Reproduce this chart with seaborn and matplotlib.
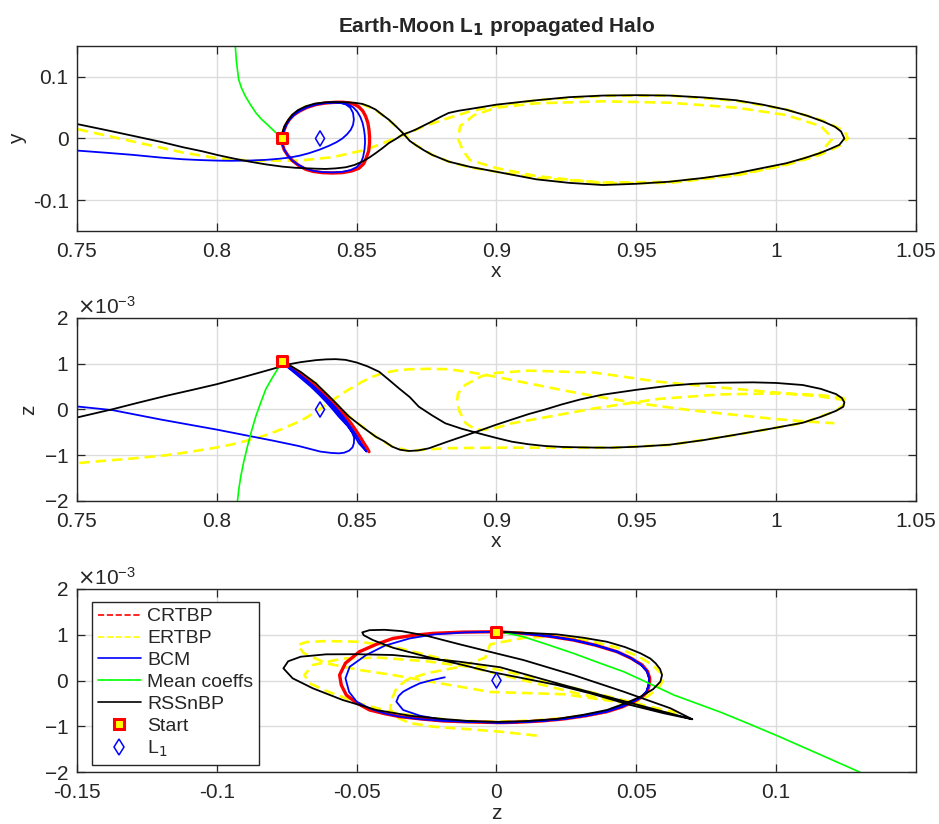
import numpy as np
import pandas as pd
import matplotlib
matplotlib.use("Agg")
import matplotlib.pyplot as plt
import seaborn as sns
from matplotlib.lines import Line2D
from matplotlib.ticker import ScalarFormatter, FixedLocator, FuncFormatter

# ---------------- DATA ----------------
# Markers
start_xy = (0.8232, 0.0)
start_xz_milli = (0.8232, 1.06)
start_yz_milli = (0.0, 1.066)
L1_xy = (0.8369, 0.0)
L1_xz_milli = (0.8369, 0.0)
L1_yz_milli = (0.0, 0.0)

# ---- Panel 1: x-y ----
red_xy_x = [0.8232,0.8234,0.8241,0.8254,0.8270,0.8292,0.8318,0.8345,0.8377,0.8413,0.8449,0.8482,0.8508,0.8525,0.8534,0.8543,0.8546,0.8546,0.8544,0.8540,0.8532,0.8522,0.8508,0.8492,0.8473,0.8450,0.8425,0.8390,0.8354,0.8322,0.8294,0.8273,0.8259,0.8248,0.8241,0.8235,0.8232]
red_xy_y = [0.0,-0.009,-0.0184,-0.0275,-0.0359,-0.0435,-0.0500,-0.0535,-0.0554,-0.0560,-0.0554,-0.0527,-0.0483,-0.0410,-0.0320,-0.0200,-0.0075,0.0035,0.0142,0.0255,0.0360,0.0445,0.0512,0.0553,0.0577,0.0588,0.0587,0.0576,0.0550,0.0503,0.0440,0.0375,0.0305,0.0225,0.0142,0.0070,0.0]

blue_xy_x = [0.8232,0.8234,0.8241,0.8254,0.8270,0.8292,0.8318,0.8345,0.8377,0.8413,0.8449,0.8478,0.8500,0.8515,0.8523,0.8528,0.8530,0.8529,0.8526,0.8521,0.8513,0.8502,0.8488,0.8470,0.8448,0.8425,0.8390,0.8354,0.8322,0.8294,0.8273,0.8259,0.8248,0.8241,0.8235,0.8232,
             0.8235,0.8241,0.8250,0.8264,0.8282,0.8305,0.8330,0.8370,0.8413,0.8440,0.8461,0.8477,0.8487,0.8490,0.8487,0.8479,0.8466,0.8449,0.8428,0.8401,0.8368,0.8330,0.8295,0.8259,0.8220,0.8175,0.8116,0.8050,0.8000,0.7940,0.7878,0.7800,0.7700,0.7600,0.7500,0.7450]
blue_xy_y = [0.0,-0.009,-0.0184,-0.0275,-0.0359,-0.0430,-0.0490,-0.0525,-0.0545,-0.0550,-0.0542,-0.0513,-0.0465,-0.0395,-0.0300,-0.0180,-0.0060,0.0050,0.0150,0.0255,0.0350,0.0435,0.0505,0.0552,0.0578,0.0586,0.0576,0.0550,0.0503,0.0440,0.0375,0.0305,0.0225,0.0142,0.0070,0.0,
             0.0070,0.0142,0.0240,0.0330,0.0410,0.0480,0.0530,0.0570,0.0585,0.0578,0.0552,0.0500,0.0414,0.0305,0.0220,0.0142,0.0070,0.0,-0.0060,-0.0119,-0.0180,-0.0238,-0.0280,-0.0310,-0.0330,-0.0347,-0.0358,-0.0362,-0.0359,-0.0350,-0.0337,-0.0310,-0.0266,-0.0230,-0.0196,-0.0180]

green_xy_x = [0.8062,0.8066,0.8070,0.8078,0.8088,0.8102,0.8120,0.8140,0.8160,0.8182,0.8205,0.8220,0.8232]
green_xy_y = [0.170,0.150,0.125,0.0957,0.082,0.0685,0.055,0.0413,0.031,0.022,0.012,0.0055,0.0]

black_xy_x = [0.745,0.750,0.760,0.770,0.780,0.7878,0.795,0.800,0.806,0.8116,0.8175,0.8235,0.8280,0.8318,0.8354,0.8389,0.8425,0.8461,0.8492,0.8520,0.8545,0.8568,0.8592,0.8615,0.8640,0.8663,0.8690,0.8710,0.8740,0.8770,0.8800,0.8829,0.8865,0.8905,0.9000,0.9143,0.9260,0.9381,0.9500,0.9619,0.9740,0.9857,0.9950,1.0036,1.0110,1.0167,1.0210,1.0232,1.0244,1.0226,1.0190,1.0155,1.0100,1.0036,0.9950,0.9857,0.9740,0.9619,0.9500,0.9381,0.9260,0.9143,0.9000,0.8905,0.8829,0.8770,0.8740,0.8710,0.8690,0.8663,0.8640,0.8615,0.8590,0.8568,0.8545,0.8520,0.8490,0.8461,0.8425,0.8389,0.8350,0.8318,0.8290,0.8270,0.8255,0.8241,0.8235,0.8232]
black_xy_y = [0.0290,0.0234,0.0140,0.0043,-0.0055,-0.0141,-0.0210,-0.0266,-0.0325,-0.0375,-0.0420,-0.0457,-0.0475,-0.0483,-0.0490,-0.0494,-0.0485,-0.0467,-0.0430,-0.0375,-0.0310,-0.0238,-0.0158,-0.0075,-0.0008,0.0060,0.0105,0.0142,0.0210,0.0278,0.0350,0.0414,0.0450,0.0478,0.0549,0.0620,0.0670,0.0696,0.0702,0.0696,0.0665,0.0620,0.0550,0.0467,0.0370,0.0277,0.0190,0.0114,0.0,-0.0103,-0.0175,-0.0239,-0.0320,-0.0402,-0.0480,-0.0565,-0.0640,-0.0701,-0.0735,-0.0755,-0.0720,-0.0663,-0.0540,-0.0460,-0.0375,-0.0266,-0.0190,-0.0103,-0.0040,0.0098,0.0200,0.0305,0.0390,0.0468,0.0520,0.0561,0.0580,0.0587,0.0590,0.0587,0.0565,0.0522,0.0460,0.0387,0.0300,0.0196,0.0100,0.0]

yellow_xy_x = [0.8232,0.8241,0.8270,0.8318,0.8389,0.8461,0.8520,0.8568,0.8615,0.8663,0.8710,0.8770,0.8829,0.8905,0.9000,0.9143,0.9381,0.9619,0.9857,1.0036,1.0155,1.0202,1.0160,1.0036,0.9857,0.9619,0.9381,0.9143,0.9000,0.8920,0.8870,0.8862,0.8880,0.8905,0.9000,0.9143,0.9381,0.9619,0.9857,1.0036,1.0155,1.0226,1.0256,1.0245,1.0167,1.0036,0.9857,0.9619,0.9381,0.9143,0.9000,0.8905,0.8829,0.8746,0.8674,0.8615,0.8532,0.8413,0.8294,0.8116,0.8000,0.7878,0.7700,0.7500,0.7450]
yellow_xy_y = [0.0,0.0196,0.0387,0.0522,0.0587,0.0587,0.0555,0.0460,0.0300,0.0098,-0.0103,-0.0266,-0.0375,-0.0470,-0.0540,-0.0640,-0.0715,-0.0705,-0.0590,-0.0420,-0.0240,0.0,0.0200,0.0380,0.0500,0.0580,0.0603,0.0570,0.0500,0.0380,0.0200,0.0,-0.0200,-0.0350,-0.0480,-0.0610,-0.0725,-0.0720,-0.0600,-0.0430,-0.0270,-0.0120,0.0,0.0120,0.0290,0.0470,0.0610,0.0696,0.0692,0.0620,0.0530,0.0440,0.0332,0.0207,0.0071,-0.0038,-0.0184,-0.0304,-0.0359,-0.0359,-0.0320,-0.0228,-0.0049,0.0152,0.0190]

# ---- Panel 2: x-z (z in 1e-3) ----
red_xz_x = [0.8232,0.8260,0.8294,0.8325,0.8354,0.8384,0.8413,0.8438,0.8461,0.8480,0.8496,0.8512,0.8526,0.8537,0.8544]
red_xz_z = [1.06,0.93,0.791,0.645,0.498,0.335,0.170,0.005,-0.157,-0.305,-0.448,-0.595,-0.739,-0.840,-0.922]

blue_xz_x = [0.8232,0.8258,0.8290,0.8320,0.8348,0.8377,0.8405,0.8430,0.8452,0.8470,0.8486,0.8502,0.8516,0.8527,0.8535,
             0.8508,0.8494,0.8478,0.8462,0.8444,0.8422,0.8397,0.8370,0.8342,0.8314,0.8285,0.8255,0.8232,
             0.8252,0.8280,0.8308,0.8336,0.8364,0.8390,0.8414,0.8436,0.8455,0.8472,0.8484,0.8491,0.8490,0.8485,0.8473,0.8455,0.8437,0.8410,0.8370,0.8294,0.8200,0.8100,0.8000,0.7900,0.7800,0.7628,0.7500,0.7450]
blue_xz_z = [1.06,0.93,0.79,0.645,0.50,0.335,0.17,0.005,-0.157,-0.305,-0.448,-0.595,-0.739,-0.84,-0.922,
             -0.739,-0.595,-0.448,-0.305,-0.157,0.005,0.17,0.335,0.50,0.645,0.79,0.93,1.06,
             0.93,0.79,0.645,0.50,0.335,0.17,0.005,-0.157,-0.28,-0.39,-0.50,-0.62,-0.74,-0.83,-0.90,-0.945,-0.958,-0.950,-0.920,-0.800,-0.680,-0.560,-0.440,-0.330,-0.220,-0.015,0.066,0.100]

green_xz_x = [0.8232,0.8217,0.8195,0.8175,0.8157,0.8140,0.8124,0.8110,0.8097,0.8086,0.8079,0.8074,0.8070]
green_xz_z = [1.06,0.88,0.66,0.444,0.15,-0.138,-0.47,-0.794,-1.12,-1.449,-1.72,-1.99,-2.2]

black_xz_x = [0.745,0.750,0.7628,0.7720,0.7819,0.7910,0.8000,0.8090,0.8175,0.8259,0.8300,0.8354,0.8390,0.8425,0.8460,0.8500,0.8540,0.8580,0.8615,0.8651,0.8690,0.8722,0.8770,0.8817,0.8875,0.8936,0.8995,0.9055,0.9115,0.9174,0.9233,0.9293,0.9352,0.9412,0.9500,0.9619,0.9740,0.9857,0.9980,1.0095,1.0160,1.0214,1.0240,1.0244,1.0235,1.0214,1.0160,1.0095,1.0000,0.9917,0.9800,0.9700,0.9619,0.9500,0.9376,0.9300,0.9233,0.9174,0.9115,0.9055,0.8996,0.8936,0.8877,0.8817,0.8758,0.8720,0.8687,0.8655,0.8627,0.8600,0.8568,0.8520,0.8473,0.8413,0.8354,0.8300,0.8259,0.8232]
black_xz_z = [-0.215,-0.175,0.007,0.150,0.299,0.425,0.553,0.700,0.845,0.990,1.035,1.078,1.095,1.100,1.085,1.027,0.940,0.826,0.650,0.463,0.270,0.062,-0.130,-0.302,-0.420,-0.520,-0.615,-0.704,-0.760,-0.798,-0.818,-0.827,-0.833,-0.834,-0.815,-0.770,-0.670,-0.550,-0.420,-0.290,-0.160,-0.030,0.060,0.154,0.250,0.337,0.450,0.535,0.580,0.593,0.585,0.560,0.520,0.430,0.320,0.220,0.110,0.000,-0.100,-0.220,-0.339,-0.470,-0.594,-0.720,-0.849,-0.895,-0.907,-0.880,-0.812,-0.700,-0.594,-0.380,-0.157,0.220,0.572,0.820,0.973,1.060]

yellow_xz_a_x = [0.745,0.750,0.760,0.770,0.7819,0.790,0.800,0.8057,0.814,0.8190,0.8235,0.8300,0.8354,0.8400,0.8449,0.8490,0.8520,0.8555,0.8591,0.8640,0.8687,0.8758,0.8829,0.8910,0.8996,0.9115,0.9233,0.9352,0.9471,0.9578,0.9700,0.9857,1.0000,1.0100,1.0208]
yellow_xz_a_z = [-1.21,-1.173,-1.12,-1.07,-1.00,-0.93,-0.83,-0.76,-0.63,-0.53,-0.42,-0.25,-0.05,0.14,0.354,0.50,0.608,0.71,0.791,0.850,0.879,0.888,0.880,0.81,0.717,0.57,0.426,0.29,0.17,0.077,-0.02,-0.12,-0.21,-0.26,-0.30]
yellow_xz_b_x = [0.8232,0.8259,0.8354,0.8473,0.8568,0.8627,0.8687,0.8758,0.8830,0.9000,0.9200,0.9412,0.9619,0.9857,1.0095,1.0214,1.0250,1.0240,1.0150,1.0000,0.9800,0.9578,0.9352,0.9174,0.9055,0.9000,0.8948,0.8920,0.8890,0.8868,0.8859,0.8862,0.8888,0.8948,0.9000,0.9115,0.9352,0.9578,0.9800,1.0000,1.0150,1.0250]
yellow_xz_b_z = [1.06,0.973,0.572,-0.157,-0.594,-0.812,-0.905,-0.870,-0.845,-0.835,-0.835,-0.836,-0.775,-0.555,-0.295,-0.030,0.150,0.250,0.320,0.350,0.330,0.230,0.026,-0.171,-0.302,-0.400,-0.448,-0.420,-0.300,-0.050,0.170,0.350,0.536,0.732,0.800,0.849,0.805,0.608,0.480,0.370,0.290,0.200]

# ---- Panel 3: y-z (z in 1e-3) ----
red_yz_y = [0.0,0.0096,0.0190,0.0275,0.0355,0.0431,0.0480,0.0521,0.0540,0.0548,0.0546,0.0539,0.0520,0.0491,0.0450,0.0395,0.0320,0.0240,0.0160,0.0072,0.0013,-0.0100,-0.0191,-0.0270,-0.0346,-0.0400,-0.0454,-0.0500,-0.0537,-0.0555,-0.0561,-0.0540,-0.0490,-0.0430,-0.0370,-0.0300,-0.0227,-0.0120,0.0]
red_yz_z = [1.066,1.030,0.965,0.884,0.770,0.629,0.490,0.338,0.200,0.048,-0.100,-0.245,-0.360,-0.463,-0.575,-0.681,-0.770,-0.841,-0.885,-0.913,-0.921,-0.905,-0.884,-0.840,-0.790,-0.725,-0.644,-0.490,-0.317,-0.100,0.120,0.380,0.630,0.790,0.920,0.985,1.030,1.058,1.066]

blue_yz_y = [0.0,0.0096,0.0190,0.0275,0.0355,0.0431,0.0480,0.0518,0.0538,0.0546,0.0544,0.0536,0.0517,0.0488,0.0447,0.0392,0.0318,0.0238,0.0158,0.0070,0.0010,-0.0100,-0.0191,-0.0274,-0.0346,-0.0400,-0.0450,-0.0500,-0.0527,-0.0540,-0.0525,-0.0466,-0.0400,-0.0310,-0.0220,-0.0110,0.0,
             0.0096,0.0190,0.0275,0.0355,0.0431,0.0480,0.0518,0.0538,0.0546,0.0544,0.0536,0.0517,0.0488,0.0447,0.0392,0.0318,0.0238,0.0158,0.0070,0.0010,-0.0100,-0.0191,-0.0274,-0.0334,-0.0358,-0.0350,-0.0334,-0.0305,-0.0274,-0.0230,-0.0185]
blue_yz_z = [1.066,1.030,0.965,0.884,0.770,0.629,0.490,0.338,0.200,0.048,-0.100,-0.245,-0.360,-0.463,-0.575,-0.681,-0.770,-0.841,-0.885,-0.913,-0.920,-0.905,-0.884,-0.845,-0.790,-0.720,-0.620,-0.463,-0.250,0.048,0.300,0.557,0.760,0.920,1.010,1.052,1.066,
             1.030,0.965,0.884,0.770,0.629,0.490,0.338,0.200,0.048,-0.100,-0.245,-0.360,-0.463,-0.575,-0.681,-0.770,-0.841,-0.885,-0.913,-0.920,-0.900,-0.860,-0.769,-0.644,-0.463,-0.340,-0.245,-0.150,-0.061,0.010,0.070]

green_yz_y = [0.0,0.0024,0.0096,0.0180,0.0275,0.0365,0.0455,0.0545,0.0634,0.0720,0.0802,0.0900,0.1005,0.1150,0.1298,0.1320]
green_yz_z = [1.066,1.052,0.957,0.790,0.594,0.390,0.192,-0.060,-0.317,-0.510,-0.694,-0.940,-1.210,-1.600,-2.000,-2.060]

black_yz_y = [0.0,0.0110,0.0216,0.0310,0.0395,0.0460,0.0515,0.0550,0.0569,0.0585,0.0592,0.0586,0.0560,0.0515,0.0460,0.0395,0.0310,0.0216,0.0100,0.0,-0.0100,-0.0191,-0.0310,-0.0430,-0.0550,-0.0657,-0.0729,-0.0762,-0.0745,-0.0700,-0.0609,-0.0500,-0.0370,-0.0250,-0.0131,0.0013,0.0240,0.0455,0.0700,
              0.0598,0.0479,0.0335,0.0216,0.0096,-0.0023,-0.0131,-0.0250,-0.0370,-0.0442,-0.0475,-0.0480,-0.0454,-0.0400,-0.0340,-0.0250,-0.0131,0.0013,0.0096,0.0275,0.0455,0.0622,0.0700]
black_yz_z = [1.066,1.040,1.009,0.935,0.847,0.730,0.594,0.480,0.376,0.250,0.120,-0.026,-0.190,-0.354,-0.500,-0.644,-0.750,-0.840,-0.890,-0.905,-0.885,-0.841,-0.769,-0.644,-0.426,-0.170,0.048,0.266,0.420,0.520,0.572,0.575,0.557,0.485,0.410,0.290,-0.100,-0.450,-0.847,
              -0.716,-0.535,-0.280,-0.098,0.048,0.192,0.354,0.520,0.716,0.884,0.990,1.052,1.100,1.108,1.080,0.978,0.790,0.572,0.448,0.120,-0.245,-0.607,-0.847]

yellow_yz_a_y = [0.0,0.0100,0.0216,0.0330,0.0431,0.0510,0.0560,0.0590,0.0595,0.0580,0.0540,0.0470,0.0380,0.0260,0.0130,0.0,-0.0130,-0.0250,-0.0370,-0.0490,-0.0600,-0.0669,-0.0687,-0.0657,-0.0550,-0.0420,-0.0250,-0.0100,0.0100,0.0300,0.0500,0.0650]
yellow_yz_a_z = [1.066,1.035,0.980,0.870,0.720,0.520,0.330,0.150,0.000,-0.150,-0.350,-0.540,-0.700,-0.810,-0.875,-0.900,-0.880,-0.810,-0.700,-0.500,-0.250,-0.061,0.120,0.338,0.480,0.500,0.420,0.300,0.000,-0.300,-0.550,-0.760]
yellow_yz_b_y = [0.0650,0.0450,0.0240,-0.0023,-0.0131,-0.0250,-0.0370,-0.0490,-0.0609,-0.0690,-0.0711,-0.0680,-0.0609,-0.0490,-0.0370,-0.0250,-0.0131,0.0013,0.0200,0.0400,0.0600]
yellow_yz_b_z = [-0.700,-0.480,-0.300,-0.250,-0.135,-0.010,0.120,0.230,0.376,0.600,0.775,0.840,0.862,0.847,0.738,0.557,0.376,0.230,-0.050,-0.350,-0.650]
yellow_yz_c_y = [0.0144,0.0013,-0.0110,-0.0227,-0.0310,-0.0360,-0.0380,-0.0375,-0.0358,-0.0322,-0.0250,-0.0131,-0.0040,-0.0023,0.0096,0.0216,0.0330]
yellow_yz_c_z = [-1.205,-1.118,-1.060,-1.009,-0.930,-0.800,-0.620,-0.420,-0.170,0.010,0.157,0.300,0.500,0.790,0.930,0.970,0.910]

MILLI = 1e-3

# ---------------- STYLE ----------------
sns.set_theme(style="white")
plt.rcParams['font.family'] = ['Liberation Sans', 'DejaVu Sans']
plt.rcParams['axes.unicode_minus'] = False

RED, YEL, BLU, GRN, BLK = '#ff0000', '#ffff00', '#0000ff', '#00ff00', '#000000'
DASH = (0, (4, 2.2))

fig = plt.figure(figsize=(9.39, 8.24), dpi=100)
ax1 = fig.add_axes([0.0820, 0.7197, 0.8935, 0.2245])
ax2 = fig.add_axes([0.0820, 0.3920, 0.8935, 0.2221])
ax3 = fig.add_axes([0.0820, 0.0631, 0.8935, 0.2221])


def line(ax, xs, ys, color, lw=1.3, ls='-', scale=1.0):
    df = pd.DataFrame({'u': np.asarray(xs, float), 'v': np.asarray(ys, float) * scale})
    sns.lineplot(data=df, x='u', y='v', ax=ax, sort=False, estimator=None,
                 color=color, linewidth=lw, linestyle=ls, legend=False)


def marks(ax, sx, sy, lx, ly):
    sns.scatterplot(x=[sx], y=[sy], ax=ax, marker='s', s=62, color=YEL,
                    edgecolor=RED, linewidth=2.2, zorder=10, legend=False)
    sns.scatterplot(x=[lx], y=[ly], ax=ax, marker='d', s=60, facecolor='none',
                    edgecolor=BLU, linewidth=1.1, zorder=10, legend=False)


# Panel 1
line(ax1, yellow_xy_x, yellow_xy_y, YEL, lw=1.9, ls=DASH)
line(ax1, red_xy_x, red_xy_y, RED, lw=2.4)
line(ax1, blue_xy_x, blue_xy_y, BLU, lw=1.3)
line(ax1, green_xy_x, green_xy_y, GRN, lw=1.2)
line(ax1, black_xy_x, black_xy_y, BLK, lw=1.3)
marks(ax1, start_xy[0], start_xy[1], L1_xy[0], L1_xy[1])

# Panel 2
line(ax2, yellow_xz_a_x, yellow_xz_a_z, YEL, lw=1.9, ls=DASH, scale=MILLI)
line(ax2, yellow_xz_b_x, yellow_xz_b_z, YEL, lw=1.9, ls=DASH, scale=MILLI)
line(ax2, red_xz_x, red_xz_z, RED, lw=2.4, scale=MILLI)
line(ax2, blue_xz_x, blue_xz_z, BLU, lw=1.3, scale=MILLI)
line(ax2, green_xz_x, green_xz_z, GRN, lw=1.2, scale=MILLI)
line(ax2, black_xz_x, black_xz_z, BLK, lw=1.3, scale=MILLI)
marks(ax2, start_xz_milli[0], start_xz_milli[1] * MILLI, L1_xz_milli[0], L1_xz_milli[1] * MILLI)

# Panel 3
line(ax3, yellow_yz_a_y, yellow_yz_a_z, YEL, lw=1.9, ls=DASH, scale=MILLI)
line(ax3, yellow_yz_b_y, yellow_yz_b_z, YEL, lw=1.9, ls=DASH, scale=MILLI)
line(ax3, yellow_yz_c_y, yellow_yz_c_z, YEL, lw=1.9, ls=DASH, scale=MILLI)
line(ax3, red_yz_y, red_yz_z, RED, lw=2.4, scale=MILLI)
line(ax3, blue_yz_y, blue_yz_z, BLU, lw=1.3, scale=MILLI)
line(ax3, green_yz_y, green_yz_z, GRN, lw=1.2, scale=MILLI)
line(ax3, black_yz_y, black_yz_z, BLK, lw=1.3, scale=MILLI)
marks(ax3, start_yz_milli[0], start_yz_milli[1] * MILLI, L1_yz_milli[0], L1_yz_milli[1] * MILLI)

fmt_g = FuncFormatter(lambda v, p: ('%g' % round(v, 6)) if abs(v) > 1e-12 else '0')

TICK_FS = 15
for ax in (ax1, ax2, ax3):
    ax.set_facecolor('white')
    ax.grid(True, color='#dcdcdc', linewidth=1.0)
    ax.set_axisbelow(True)
    for s in ax.spines.values():
        s.set_color('#262626')
        s.set_linewidth(1.0)
        s.set_visible(True)
    ax.tick_params(direction='in', length=6, width=0.9, colors='#262626',
                   top=True, right=True, bottom=True, left=True,
                   labelsize=TICK_FS)
    ax.tick_params(axis='x', pad=8)
    ax.tick_params(axis='y', pad=6)
    ax.set_xlabel('')
    ax.set_ylabel('')

for ax in (ax1, ax2):
    ax.set_xlim(0.75, 1.05)
    ax.xaxis.set_major_locator(FixedLocator([0.75, 0.8, 0.85, 0.9, 0.95, 1.0, 1.05]))
    ax.xaxis.set_major_formatter(fmt_g)
    ax.set_xlabel('x', fontsize=15, labelpad=1)

ax1.set_ylim(-0.15, 0.15)
ax1.yaxis.set_major_locator(FixedLocator([-0.1, 0.0, 0.1]))
ax1.yaxis.set_major_formatter(fmt_g)
ax1.set_ylabel('y', fontsize=15, labelpad=4)
ax1.set_title('Earth-Moon L$_{\\mathbf{1}}$ propagated Halo', fontsize=15, fontweight='bold', pad=10)

for ax in (ax2, ax3):
    ax.set_ylim(-2e-3, 2e-3)
    ax.yaxis.set_major_locator(FixedLocator([-2e-3, -1e-3, 0.0, 1e-3, 2e-3]))
    sf = ScalarFormatter(useMathText=True)
    sf.set_powerlimits((-2, 2))
    ax.yaxis.set_major_formatter(sf)
    ax.yaxis.get_offset_text().set_fontsize(TICK_FS)

ax2.set_ylabel('z', fontsize=15, labelpad=4)

ax3.set_xlim(-0.15, 0.15)
ax3.xaxis.set_major_locator(FixedLocator([-0.15, -0.1, -0.05, 0.0, 0.05, 0.1]))
ax3.xaxis.set_major_formatter(fmt_g)
ax3.set_xlabel('z', fontsize=15, labelpad=1)

handles = [
    Line2D([], [], color=RED, lw=1.2, ls='--'),
    Line2D([], [], color=YEL, lw=1.2, ls='--'),
    Line2D([], [], color=BLU, lw=1.2),
    Line2D([], [], color=GRN, lw=1.2),
    Line2D([], [], color=BLK, lw=1.2),
    Line2D([], [], ls='none', marker='s', ms=7, mfc=YEL, mec=RED, mew=2.2),
    Line2D([], [], ls='none', marker='d', ms=8, mfc='none', mec=BLU, mew=1.1),
]
labels = ['CRTBP', 'ERTBP', 'BCM', 'Mean coeffs', 'RSSnBP', 'Start', 'L$_1$']
leg = ax3.legend(handles, labels, loc='upper left', bbox_to_anchor=(0.0179, 0.929),
                 borderaxespad=0, fontsize=14, frameon=True, fancybox=False,
                 edgecolor='#262626', framealpha=1, handlelength=2.2,
                 handletextpad=0.35, labelspacing=0.22, borderpad=0.3)
leg.get_frame().set_linewidth(1.0)

fig.savefig('out.png', dpi=100, facecolor='white')
